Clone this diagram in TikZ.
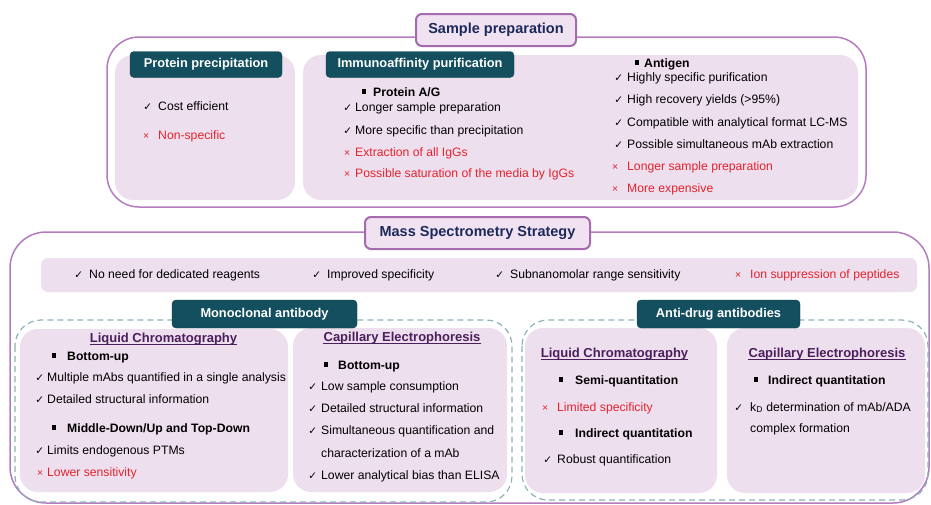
\documentclass[tikz,border=0pt]{standalone}
\usepackage{fontspec}
\setmainfont{Liberation Sans}
\newfontfamily\dejavu{DejaVu Sans}
\definecolor{teal1}{HTML}{134F5E}
\definecolor{purp}{HTML}{B47CBF}
\definecolor{purpdk}{HTML}{A56BAE}
\definecolor{titlefill}{HTML}{F1E2F2}
\definecolor{navy}{HTML}{1C2A5A}
\definecolor{panel}{HTML}{EEDFEE}
\definecolor{dashc}{HTML}{8DB3BA}
\definecolor{myred}{HTML}{E4232D}
\definecolor{headc}{HTML}{4B1E5C}
\newcommand\cksym{{\dejavu\fontsize{10.5}{10}\selectfont ✓}}
\newcommand\xsym{{\fontsize{10.5}{10}\selectfont ×}}
\newcommand\mkck[1][5pt]{\llap{\cksym\hspace{#1}}}
\newcommand\mkx[1][5pt]{\llap{\xsym\hspace{#1}}}
\newcommand\mkbul[1][10pt]{\llap{\raisebox{2.4pt}{\rule{4.2pt}{4.2pt}}\hspace{#1}}}
\tikzset{
  txt/.style={anchor=base west, inner sep=0pt, font=\fontsize{12.2}{14}\selectfont, text=black},
  redtxt/.style={txt, text=myred},
  subhd/.style={txt, font=\bfseries\fontsize{12.2}{14}\selectfont},
  sechd/.style={anchor=base, inner sep=0pt, font=\bfseries\fontsize{13}{15}\selectfont, text=headc},
  hdr/.style={fill=teal1, draw=teal1!80!black, rounded corners=4pt, text=white,
    font=\bfseries\fontsize{12.8}{14}\selectfont, inner sep=0pt},
  titlebox/.style={fill=titlefill, draw=purpdk, line width=2pt, rounded corners=6pt,
    text=navy, font=\bfseries\fontsize{14.5}{16}\selectfont, inner sep=0pt},
  outerbox/.style={draw=purp, line width=1.5pt, rounded corners=32pt},
  panelbox/.style={fill=panel, rounded corners=18pt},
  dashbox/.style={draw=dashc, line width=1.2pt, dash pattern=on 6pt off 4pt, rounded corners=26pt},
}
\begin{document}
\begin{tikzpicture}[x=1pt,y=-1pt]
\useasboundingbox (0,0) rectangle (931,504);
\clip (0,0) rectangle (931,504);
\fill[white] (0,0) rectangle (931,504);

% ---------- Sample preparation ----------
\draw[outerbox] (107,37) rectangle (866,207);
\fill[panelbox] (115,55) rectangle (295,200);
\fill[panelbox] (303,55) rectangle (858,200);
\node[titlebox, minimum width=160pt, minimum height=32pt] (sp) at (496,30) {Sample preparation};
\node[hdr, minimum width=152pt, minimum height=26pt] (pp) at (206,64.5) {Protein precipitation};
\node[hdr, minimum width=188pt, minimum height=26pt] (ia) at (420,64.5) {Immunoaffinity purification};

\node[txt] (pp1) at (158,110) {\mkck[6pt]Cost efficient};
\node[redtxt] (pp2) at (158,139) {\mkx[9pt]Non-specific};

\node[subhd] (ia0) at (373,96) {\mkbul[7pt]Protein A/G};
\node[txt] (ia1) at (355,111) {\mkck[3pt]Longer sample preparation};
\node[txt] (ia2) at (355,134) {\mkck[3pt]More specific than precipitation};
\node[redtxt] (ia3) at (355,156) {\mkx[5pt]Extraction of all IgGs};
\node[redtxt] (ia4) at (355,177) {\mkx[5pt]Possible saturation of the media by IgGs};

\node[subhd] (ag0) at (644,67) {\mkbul[5pt]Antigen};
\node[txt] (ag1) at (627,81) {\mkck[4pt]Highly specific purification};
\node[txt] (ag2) at (627,103) {\mkck[4pt]High recovery yields (>95\%)};
\node[txt] (ag3) at (627,126) {\mkck[4pt]Compatible with analytical format LC-MS};
\node[txt] (ag4) at (627,148) {\mkck[4pt]Possible simultaneous mAb extraction};
\node[redtxt] (ag5) at (627,170) {\mkx[9pt]Longer sample preparation};
\node[redtxt] (ag6) at (627,192) {\mkx[9pt]More expensive};

% ---------- Mass Spectrometry Strategy ----------
\draw[outerbox, rounded corners=36pt] (10,232) rectangle (929,503);
\node[titlebox, minimum width=225pt, minimum height=32pt] (ms) at (477.5,233) {Mass Spectrometry Strategy};
\fill[panel, rounded corners=7pt] (41,258) rectangle (917,292);
\node[txt] (b1) at (89,278) {\mkck[6pt]No need for dedicated reagents};
\node[txt] (b2) at (327,278) {\mkck[6pt]Improved specificity};
\node[txt] (b3) at (510,278) {\mkck[6pt]Subnanomolar range sensitivity};
\node[redtxt] (b4) at (750,278) {\mkx[9pt]Ion suppression of peptides};

% Monoclonal antibody
\draw[dashbox] (15,320) rectangle (512,502);
\fill[panelbox] (20,329) rectangle (288,492);
\fill[panelbox] (293,328) rectangle (507,492);
\node[hdr, minimum width=185pt, minimum height=28pt] (mab) at (264.5,314) {Monoclonal antibody};

\node[sechd] (mlc) at (163.5,342) {Liquid Chromatography};
\draw[headc, line width=0.9pt] ([yshift=-2pt]mlc.base west) -- ([yshift=-2pt]mlc.base east);
\node[subhd] (m1) at (67,360) {\mkbul[11pt]Bottom-up};
\node[txt] (m2) at (47,381) {\mkck[3pt]Multiple mAbs quantified in a single analysis};
\node[txt] (m3) at (47,403) {\mkck[3pt]Detailed structural information};
\node[subhd] (m4) at (67,432) {\mkbul[11pt]Middle-Down/Up and Top-Down};
\node[txt] (m5) at (47,454) {\mkck[3pt]Limits endogenous PTMs};
\node[redtxt] (m6) at (47,476) {\mkx[4pt]Lower sensitivity};

\node[sechd] (mce) at (402,341) {Capillary Electrophoresis};
\draw[headc, line width=0.9pt] ([yshift=-2pt]mce.base west) -- ([yshift=-2pt]mce.base east);
\node[subhd] (c1) at (338,369) {\mkbul[10pt]Bottom-up};
\node[txt] (c2) at (321,390) {\mkck[4pt]Low sample consumption};
\node[txt] (c3) at (321,412) {\mkck[4pt]Detailed structural information};
\node[txt] (c4) at (321,434) {\mkck[4pt]Simultaneous quantification and};
\node[txt] (c5) at (321,457) {characterization of a mAb};
\node[txt] (c6) at (321,479) {\mkck[4pt]Lower analytical bias than ELISA};

% Anti-drug antibodies
\draw[dashbox] (522,320) rectangle (928,500);
\fill[panelbox] (525,328) rectangle (717,493);
\fill[panelbox] (727,328) rectangle (925,493);
\node[hdr, minimum width=163pt, minimum height=28pt] (ada) at (718.5,314) {Anti-drug antibodies};

\node[sechd] (alc) at (614.5,357) {Liquid Chromatography};
\draw[headc, line width=0.9pt] ([yshift=-2pt]alc.base west) -- ([yshift=-2pt]alc.base east);
\node[subhd] (a1) at (575,384) {\mkbul[12pt]Semi-quantitation};
\node[redtxt] (a2) at (557,411) {\mkx[9pt]Limited specificity};
\node[subhd] (a3) at (575,437) {\mkbul[12pt]Indirect quantitation};
\node[txt] (a4) at (557,463) {\mkck[5pt]Robust quantification};

\node[sechd] (ace) at (827,357) {Capillary Electrophoresis};
\draw[headc, line width=0.9pt] ([yshift=-2pt]ace.base west) -- ([yshift=-2pt]ace.base east);
\node[subhd] (e1) at (768,384) {\mkbul[10pt]Indirect quantitation};
\node[txt] (e2) at (750,411) {\mkck[7pt]k\textsubscript{D} determination of mAb/ADA};
\node[txt] (e3) at (750,432) {complex formation};
\end{tikzpicture}
\end{document}
